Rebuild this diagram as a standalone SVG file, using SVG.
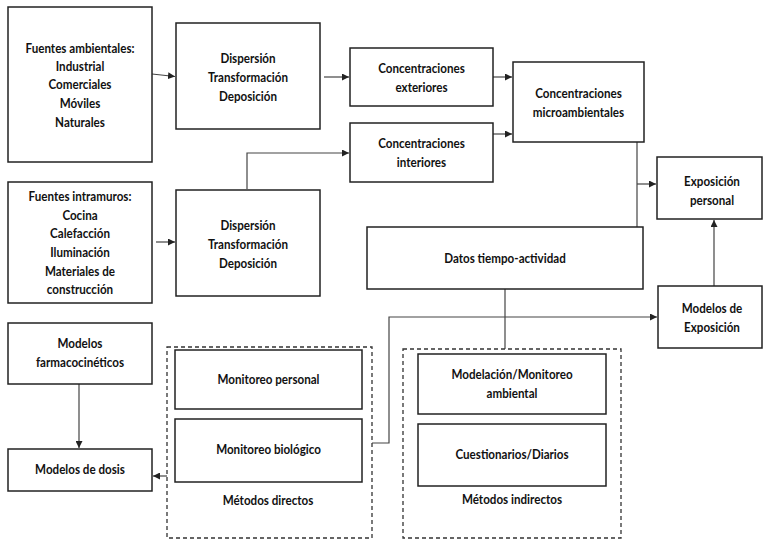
<svg xmlns="http://www.w3.org/2000/svg" width="764" height="540" viewBox="0 0 764 540">
<style>
.box{fill:#fff;stroke:#222;stroke-width:1.5}
.dash{fill:none;stroke:#333;stroke-width:1.3;stroke-dasharray:4 3}
.con{fill:none;stroke:#444;stroke-width:1.2}
text{font-family:Lato,"Open Sans","Liberation Sans",sans-serif;font-weight:bold;font-size:14px;fill:#111;text-anchor:middle}
</style>
<defs>
<marker id="ah" markerUnits="userSpaceOnUse" markerWidth="7" markerHeight="7" refX="7" refY="3.5" orient="auto">
<path d="M0,0 L7,3.5 L0,7 z" fill="#222"/>
</marker>
</defs>
<rect width="764" height="540" fill="#fff"/>

<g id="connectors">
<path class="con" d="M152,74 L175,76.5" marker-end="url(#ah)"/>
<path class="con" d="M324,77 H349" marker-end="url(#ah)"/>
<path class="con" d="M493,77 H512" marker-end="url(#ah)"/>
<path class="con" d="M493,134 H512" marker-end="url(#ah)"/>
<path class="con" d="M247,189 V153 H349" marker-end="url(#ah)"/>
<path class="con" d="M156,242 H175" marker-end="url(#ah)"/>
<path class="con" d="M637,142 V227"/>
<path class="con" d="M637,184 H656" marker-end="url(#ah)"/>
<path class="con" d="M714,286 V220" marker-end="url(#ah)"/>
<path class="con" d="M505,289 V349"/>
<path class="con" d="M372,443 H389 V317 H657" marker-end="url(#ah)"/>
<path class="con" d="M79,384 V448" marker-end="url(#ah)"/>
<path class="con" d="M167,476 H153" marker-end="url(#ah)"/>
</g>

<g id="fuentes-ambientales">
<rect class="box" x="8" y="7" width="144" height="155"/>
<text transform="translate(80 0) scale(0.83 1)"><tspan x="0" y="53">Fuentes ambientales:</tspan><tspan x="0" y="71">Industrial</tspan><tspan x="0" y="89">Comerciales</tspan><tspan x="0" y="108">Móviles</tspan><tspan x="0" y="127">Naturales</tspan></text>
</g>

<g id="dispersion-1">
<rect class="box" x="176" y="23" width="144" height="106"/>
<text transform="translate(248 0) scale(0.83 1)"><tspan x="0" y="63">Dispersión</tspan><tspan x="0" y="82">Transformación</tspan><tspan x="0" y="101">Deposición</tspan></text>
</g>

<g id="conc-exteriores">
<rect class="box" x="350" y="48" width="143" height="58"/>
<text transform="translate(421.5 0) scale(0.83 1)"><tspan x="0" y="73">Concentraciones</tspan><tspan x="0" y="92">exteriores</tspan></text>
</g>

<g id="conc-interiores">
<rect class="box" x="350" y="123" width="143" height="59"/>
<text transform="translate(421.5 0) scale(0.83 1)"><tspan x="0" y="148">Concentraciones</tspan><tspan x="0" y="167">interiores</tspan></text>
</g>

<g id="conc-micro">
<rect class="box" x="513" y="62" width="131" height="80"/>
<text transform="translate(578.5 0) scale(0.83 1)"><tspan x="0" y="98">Concentraciones</tspan><tspan x="0" y="117">microambientales</tspan></text>
</g>

<g id="exposicion-personal">
<rect class="box" x="657" y="157" width="105" height="62"/>
<text transform="translate(712 0) scale(0.83 1)"><tspan x="0" y="186">Exposición</tspan><tspan x="0" y="205">personal</tspan></text>
</g>

<g id="fuentes-intramuros">
<rect class="box" x="8" y="182" width="144" height="121"/>
<text transform="translate(80 0) scale(0.83 1)"><tspan x="0" y="201">Fuentes intramuros:</tspan><tspan x="0" y="220">Cocina</tspan><tspan x="0" y="238">Calefacción</tspan><tspan x="0" y="257">Iluminación</tspan><tspan x="0" y="276">Materiales de</tspan><tspan x="0" y="294">construcción</tspan></text>
</g>

<g id="dispersion-2">
<rect class="box" x="176" y="190" width="144" height="106"/>
<text transform="translate(248 0) scale(0.83 1)"><tspan x="0" y="230">Dispersión</tspan><tspan x="0" y="249">Transformación</tspan><tspan x="0" y="268">Deposición</tspan></text>
</g>

<g id="datos-tiempo-actividad">
<rect class="box" x="367" y="227" width="276" height="62"/>
<text transform="translate(505 0) scale(0.83 1)"><tspan x="0" y="263">Datos tiempo-actividad</tspan></text>
</g>

<g id="modelos-exposicion">
<rect class="box" x="658" y="286" width="104" height="62"/>
<text transform="translate(712 0) scale(0.83 1)"><tspan x="0" y="313">Modelos de</tspan><tspan x="0" y="332">Exposición</tspan></text>
</g>

<g id="modelos-farmacocineticos">
<rect class="box" x="8" y="323" width="144" height="61"/>
<text transform="translate(80 0) scale(0.83 1)"><tspan x="0" y="348">Modelos</tspan><tspan x="0" y="367">farmacocinéticos</tspan></text>
</g>

<g id="modelos-dosis">
<rect class="box" x="8" y="449" width="144" height="42"/>
<text transform="translate(80 0) scale(0.83 1)"><tspan x="0" y="474">Modelos de dosis</tspan></text>
</g>

<g id="metodos-directos">
<rect class="dash" x="167" y="347" width="205" height="191"/>
<text transform="translate(268 0) scale(0.83 1)"><tspan x="0" y="505">Métodos directos</tspan></text>
</g>

<g id="monitoreo-personal">
<rect class="box" x="175" y="350" width="187" height="59"/>
<text transform="translate(268.5 0) scale(0.83 1)"><tspan x="0" y="384">Monitoreo personal</tspan></text>
</g>

<g id="monitoreo-biologico">
<rect class="box" x="175" y="419" width="187" height="63"/>
<text transform="translate(268.5 0) scale(0.83 1)"><tspan x="0" y="454">Monitoreo biológico</tspan></text>
</g>

<g id="metodos-indirectos">
<rect class="dash" x="403" y="349" width="218" height="189"/>
<text transform="translate(512 0) scale(0.83 1)"><tspan x="0" y="504">Métodos indirectos</tspan></text>
</g>

<g id="modelacion-monitoreo">
<rect class="box" x="418" y="354" width="188" height="60"/>
<text transform="translate(512 0) scale(0.83 1)"><tspan x="0" y="379">Modelación/Monitoreo</tspan><tspan x="0" y="398">ambiental</tspan></text>
</g>

<g id="cuestionarios-diarios">
<rect class="box" x="418" y="424" width="188" height="62"/>
<text transform="translate(512 0) scale(0.83 1)"><tspan x="0" y="459">Cuestionarios/Diarios</tspan></text>
</g>
</svg>
